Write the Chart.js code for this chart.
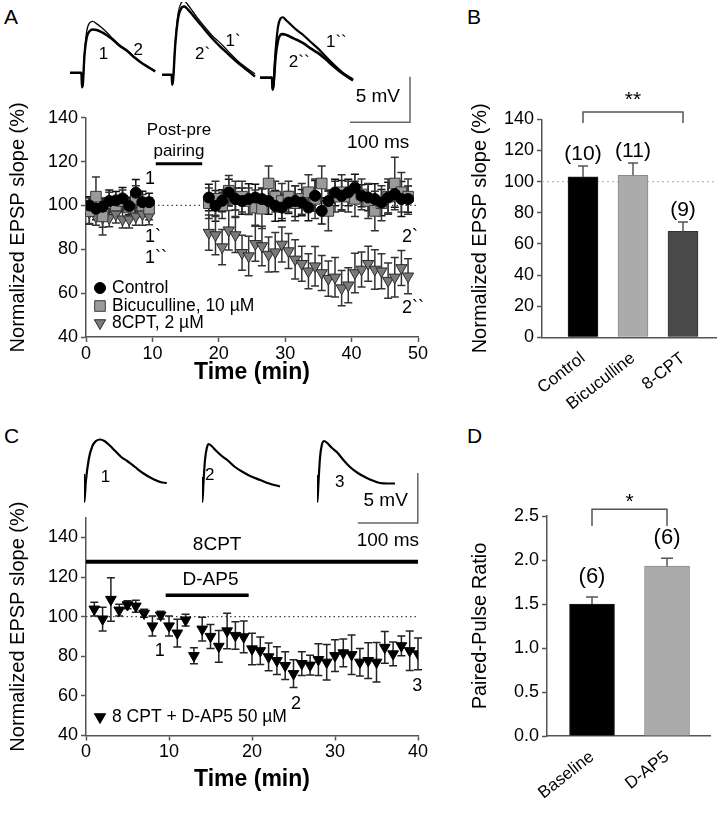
<!DOCTYPE html>
<html><head><meta charset="utf-8">
<script src="https://cdn.jsdelivr.net/npm/chart.js@4.4.1/dist/chart.umd.min.js"></script>
<style>
body{margin:0;background:#fff;}
#wrap{position:relative;width:717px;height:813px;overflow:hidden;background:#fff;font-family:"Liberation Sans",Arial,sans-serif;}
canvas{position:absolute;}
.lbl{position:absolute;font-size:21px;color:#000;line-height:1;}
</style></head><body><div id="wrap">
<div class="lbl" style="left:4px;top:6px">A</div>
<div class="lbl" style="left:467px;top:6px">B</div>
<div class="lbl" style="left:4px;top:425px">C</div>
<div class="lbl" style="left:467px;top:425px">D</div>
</div>
<script>
// ================= DATA =================
// Panel A time course
const minutesPre  = [0.5,1.5,2.5,3.5,4.5,5.5,6.5,7.5,8.5,9.5];
const minutesPost = [18.5,19.5,20.5,21.5,22.5,23.5,24.5,25.5,26.5,27.5,28.5,29.5,30.5,31.5,32.5,33.5,34.5,35.5,36.5,37.5,38.5,39.5,40.5,41.5,42.5,43.5,44.5,45.5,46.5,47.5,48.5];
const controlPre     = [100,98.5,99.4,102,102.3,103.2,99.7,105.8,101.5,101.5];
const controlPreErr  = [4,5,4,5,4,5,4,6,5,4];
const controlPost    = [103.6,99.8,102.1,105.9,102.9,102,102.9,103.6,102.9,102,99.8,99,101.3,102,101.3,99,104.4,97.5,102,105.9,104.4,105.9,108.2,104.4,103.6,102.9,101.3,103.6,105.2,102.9,102.9];
const controlPostErr = [6,7,5,6,5,6,7,6,5,6,7,6,5,7,6,6,7,6,5,6,7,6,6,5,6,7,6,7,6,8,6];
const bicPre     = [97.4,104,95,101,100,102,99,103,100,98.5];
const bicPreErr  = [6,9,5,5,4,5,4,6,5,5];
const bicPost    = [101,103,100,106.7,103,104,102,99,98.5,110,104,102,104,101,103,106,103,110,97.5,104,106,104,103,105,102,97.5,101,104,110,106,104];
const bicPostErr = [7,8,6,7,8,7,6,8,9,8,7,8,7,8,7,8,9,8,9,7,8,7,8,7,8,9,8,8,12,9,8];
const cptPre     = [96.8,95,94.5,94.3,96,93.7,93.7,95,96,95.2];
const cptPreErr  = [5,4,8,4,4,4,4,4,5,4];
const cptPost    = [87.6,86.5,81,88.7,86.5,78.4,76.9,82.5,81.5,77.6,78.7,82.2,79.2,75.4,73.4,70,72.3,69.2,66.6,67.2,62.3,63.6,69.2,70.8,73.4,70.8,70,65.7,67.2,71.5,67.7];
const cptPostErr = [8,9,8,9,8,8,9,8,9,8,9,8,8,9,8,8,9,8,8,9,8,8,9,8,8,9,8,8,9,8,8];
const seriesNamesA = ['Control','Bicuculline, 10 \u00b5M','8CPT, 2 \u00b5M'];

// Panel B
const labelsB = ['Control','Bicuculline','8-CPT'];
const meansB  = [103,104,68];
const errsB   = [7,8,6];
const nB      = ['(10)','(11)','(9)'];

// Panel C time course
const minutesC = [1,2,3,4,5,6,7,8,9,10,11,12,13,14,15,16,17,18,19,20,21,22,23,24,25,26,27,28,29,30,31,32,33,34,35,36,37,38,39,40];
const valuesC  = [103.8,98.8,108.7,103.3,106,105.3,101.7,95.3,100.8,95.3,91.7,98.3,80.3,93.7,90,85,92.8,90.5,89.8,83.7,82.8,79.7,77.8,75.3,71.2,76.3,75.5,78.3,77,80.3,81.7,80.8,77,77.8,77,84.5,81.2,85.3,82.8,81.2];
const errsC    = [3.5,6,11,3,2,3,2,5,2,5,7,3,4,6,6,8,9,7,8,8,7,7,7,7,7,6,5,8,9,8,7,10,7,9,10,8,6,5,10,8];
const seriesNameC = '8 CPT + D-AP5 50 \u00b5M';

// Panel D
const labelsD = ['Baseline','D-AP5'];
const meansD  = [1.50,1.93];
const errsD   = [0.08,0.09];
const nD      = ['(6)','(6)'];

// EPSP traces [ms, mV]
const traceA1_1 = [[0,0],[19,0],[20,-1.6],[21.5,-1.2],[24,2.0],[28,4.6],[33,5.5],[38,5.65],[44,5.4],[52,5.0],[62,4.4],[72,3.7],[82,3.1],[95,2.5],[108,1.7],[120,1.1],[132,0.6],[142,0.2]];
const traceA1_2 = [[0,0],[19,0],[20,-1.6],[21.5,-1.2],[24,1.8],[28,3.9],[33,4.6],[38,4.75],[44,4.7],[52,4.5],[62,4.1],[72,3.6],[82,3.0],[95,2.4],[108,1.65],[120,1.05],[132,0.55],[142,0.15]];
const traceA2_1 = [[0,0],[16,0],[17,-1.1],[18.5,-0.6],[22,3.5],[27,6.8],[32,7.9],[37,8.1],[43,7.7],[52,6.9],[62,6.0],[72,5.2],[85,4.2],[97,3.5],[110,2.6],[125,1.6],[140,0.8],[155,0.1]];
const traceA2_2 = [[0,0],[16,0],[17,-1.1],[18.5,-0.6],[22,3.2],[27,6.3],[32,7.3],[37,7.5],[43,7.2],[52,6.5],[62,5.7],[72,4.9],[85,3.9],[97,3.1],[110,2.3],[125,1.4],[140,0.6],[155,-0.2]];
const traceA3_1 = [[0,0],[20,0],[21,-1.3],[22.5,-0.8],[26,3.0],[30,5.6],[34,6.5],[38,6.65],[44,6.3],[52,5.8],[62,5.2],[72,4.7],[85,3.9],[97,3.2],[110,2.3],[122,1.5],[137,0.6],[155,-0.2]];
const traceA3_2 = [[0,0],[20,0],[21,-1.3],[22.5,-0.8],[26,2.3],[30,4.1],[34,4.7],[38,4.8],[44,4.7],[52,4.45],[62,4.15],[72,3.8],[85,3.2],[97,2.7],[110,2.0],[122,1.3],[137,0.5],[155,-0.3]];
const traceC1 = [[0,1.3],[0.6,-1.5],[3,0.5],[8,2.8],[14,4.1],[20,4.6],[27,4.75],[34,4.6],[42,4.2],[52,3.6],[62,3.0],[72,2.6],[85,2.0],[98,1.4],[112,0.9],[127,0.5],[138,0.4]];
const traceC2 = [[0,1.0],[0.6,-1.5],[2.5,0.5],[5,2.7],[8,3.9],[11,4.3],[16,4.1],[24,3.6],[33,3.1],[42,2.7],[55,2.0],[68,1.5],[82,1.05],[97,0.7],[112,0.35],[130,0.05]];
const traceC3 = [[0,1.2],[0.6,-1.5],[2.5,0.5],[5,2.9],[8,4.2],[12,4.6],[17,4.4],[25,3.9],[33,3.5],[44,2.7],[55,2.0],[68,1.4],[83,0.9],[95,0.6],[105,0.4],[118,0.35],[130,0.35]];
const scaleBarMs = 100, scaleBarMv = 5;

// ================= SETUP =================
const FONT = '"Liberation Sans", Arial, sans-serif';
Chart.defaults.font.family = FONT;
Chart.defaults.color = '#000';
Chart.defaults.animation = false;
Chart.defaults.responsive = false;
Chart.defaults.devicePixelRatio = 1;
Chart.defaults.events = [];
Chart.defaults.plugins.legend.display = false;
Chart.defaults.plugins.tooltip.enabled = false;

const wrap = document.getElementById('wrap');
function mk(left, top, w, h){
  const c = document.createElement('canvas');
  c.width = w; c.height = h;
  c.style.left = left+'px'; c.style.top = top+'px';
  c.style.width = w+'px'; c.style.height = h+'px';
  wrap.appendChild(c); return c;
}
const fixY = w => s => { s.width = w; s.paddingTop = 0; s.paddingBottom = 0; };
const fixX = h => s => { s.height = h; s.paddingLeft = 0; s.paddingRight = 0; };
const AX = '#555';
const TICK = 18;

function txt(ctx, s, x, y, size, align, weight){
  ctx.save();
  ctx.font = (weight||'') + ' ' + size + 'px ' + FONT;
  ctx.fillStyle = '#000'; ctx.textAlign = align || 'center'; ctx.textBaseline = 'middle';
  ctx.fillText(s, x, y); ctx.restore();
}
function marker(ctx, style, x, y, fill, stroke){
  ctx.save(); ctx.beginPath();
  if (style === 'circle') ctx.arc(x, y, 5.5, 0, Math.PI*2);
  else if (style === 'rect') ctx.rect(x-5.3, y-5.3, 10.6, 10.6);
  else { const r = 6.5; ctx.moveTo(x, y+r); ctx.lineTo(x-r*0.866, y-r/2); ctx.lineTo(x+r*0.866, y-r/2); ctx.closePath(); }
  ctx.fillStyle = fill; ctx.fill(); ctx.lineWidth = 1; ctx.strokeStyle = stroke; ctx.stroke(); ctx.restore();
}
function hline(ctx, x1, x2, y, lw, color, dash){
  ctx.save(); ctx.beginPath(); ctx.lineWidth = lw; ctx.strokeStyle = color;
  if (dash) ctx.setLineDash(dash);
  ctx.moveTo(x1, y); ctx.lineTo(x2, y); ctx.stroke(); ctx.restore();
}
function errBars(chart, color, cap, both){
  const ctx = chart.ctx, xs = chart.scales.x, ys = chart.scales.y;
  chart.data.datasets.forEach(ds => {
    if (!ds.errs) return;
    ds.data.forEach((p, i) => {
      const e = ds.errs[i]; const x = xs.getPixelForValue(p.x);
      const yHi = ys.getPixelForValue(p.y + e), yLo = both ? ys.getPixelForValue(p.y - e) : ys.getPixelForValue(p.y);
      ctx.save(); ctx.strokeStyle = ds.errColor || color; ctx.lineWidth = 1.5; ctx.beginPath();
      ctx.moveTo(x, yLo); ctx.lineTo(x, yHi);
      ctx.moveTo(x-cap, yHi); ctx.lineTo(x+cap, yHi);
      if (both) { ctx.moveTo(x-cap, yLo); ctx.lineTo(x+cap, yLo); }
      ctx.stroke(); ctx.restore();
    });
  });
}
const pts = (xs, ys) => xs.map((x, i) => ({x, y: ys[i]}));

// ================= TRACES =================
const PX_MS = 0.6;
function traceChart(left, top, w, h, pxMv, vTop, traces, extra){
  const c = mk(left, top, w, h);
  return new Chart(c, {
    type: 'scatter',
    data: { datasets: traces.map(t => ({ data: t.d.map(p => ({x:p[0], y:p[1]})), showLine: true, borderColor: '#000', borderWidth: t.w, pointRadius: 0, cubicInterpolationMode: 'monotone', fill: false })) },
    options: { layout: {padding: 0},
      scales: { x: {type:'linear', display:false, min:0, max: w/PX_MS}, y: {type:'linear', display:false, max: vTop, min: vTop - h/pxMv} } },
    plugins: [{ id:'tx', afterDraw(ch){ extra && extra(ch); } }]
  });
}
const PX_MV_A = 9.09, PX_MV_C = 10;
function lab(ch, s, t, v, align){ txt(ch.ctx, s, ch.scales.x.getPixelForValue(t), ch.scales.y.getPixelForValue(v), 17, align||'left'); }
function scaleBar(ch, t0, vBottom, textV, textMsT, textMsV){
  const ctx = ch.ctx, X = ch.scales.x, Y = ch.scales.y;
  const x1 = X.getPixelForValue(t0), x2 = X.getPixelForValue(t0 + scaleBarMs);
  const y1 = Y.getPixelForValue(vBottom), y2 = Y.getPixelForValue(vBottom + scaleBarMv);
  ctx.save(); ctx.strokeStyle = '#666'; ctx.lineWidth = 1.5; ctx.beginPath();
  ctx.moveTo(x1, y1); ctx.lineTo(x2, y1); ctx.lineTo(x2, y2); ctx.stroke(); ctx.restore();
  txt(ctx, scaleBarMv + ' mV', x2 - 10, Y.getPixelForValue(textV), 19, 'right');
  txt(ctx, scaleBarMs + ' ms', X.getPixelForValue(textMsT), Y.getPixelForValue(textMsV), 19, 'center');
}
traceChart(70, 0, 96, 100, PX_MV_A, 8, [{d:traceA1_1,w:1.3},{d:traceA1_2,w:2.4}], ch => { lab(ch,'1',48,2.0); lab(ch,'2',106,2.5); });
traceChart(162, 2, 96, 100, PX_MV_A, 8, [{d:traceA2_1,w:1.3},{d:traceA2_2,w:2.4}], ch => { lab(ch,'2`',55,2.2); lab(ch,'1`',106,3.7); });
traceChart(260, 5, 165, 150, PX_MV_A, 8, [{d:traceA3_1,w:2.2},{d:traceA3_2,w:2.6}], ch => { lab(ch,'2``',48,1.7); lab(ch,'1``',110,3.85); scaleBar(ch, 150, -4.9, -2.1, 197, -7.15); });
traceChart(84, 432, 96, 120, PX_MV_C, 5.5, [{d:traceC1,w:2.2}], ch => { lab(ch,'1',28,1.0); });
traceChart(202, 432, 96, 120, PX_MV_C, 5.5, [{d:traceC2,w:2.2}], ch => { lab(ch,'2',5,1.2); });
traceChart(317, 432, 110, 120, PX_MV_C, 5.5, [{d:traceC3,w:2.2}], ch => { lab(ch,'3',30,0.5); scaleBar(ch, 68, -3.6, -1.4, 118, -5.4); });

// ================= PANEL A =================
function timeAxes(xmax, ymin, ymax, yW, xH, xTitlePad, filterMax){
  return {
    x: { type:'linear', min:0, max:xmax, afterFit: fixX(xH),
      ticks: { stepSize:10, font:{size:TICK}, padding:1, maxRotation:0 },
      grid: { drawOnChartArea:false, tickLength:5, color:AX, tickWidth:1.5 },
      border: { color:AX, width:1.5 },
      title: { display:true, text:'Time (min)', font:{size:23, weight:'bold'}, padding:{top:0, bottom:xTitlePad} } },
    y: { type:'linear', min:ymin, max:ymax, afterFit: fixY(yW),
      afterBuildTicks: s => { s.ticks = s.ticks.filter(t => t.value <= filterMax); },
      ticks: { stepSize:20, font:{size:TICK}, padding:3 },
      grid: { drawOnChartArea:false, tickLength:5, color:AX, tickWidth:1.5 },
      border: { color:AX, width:1.5 },
      title: { display:true, text:'Normalized EPSP slope (%)', font:{size:20}, padding:{top:6, bottom:0} } }
  };
}
const cA = mk(0, 100, 460, 300);
new Chart(cA, {
  type: 'scatter',
  data: { datasets: [
    { data: [...pts(minutesPre, controlPre), ...pts(minutesPost, controlPost)], errs: [...controlPreErr, ...controlPostErr], errColor:'#111',
      pointStyle:'circle', pointRadius:5.5, backgroundColor:'#000', borderColor:'#000', borderWidth:1 },
    { data: [...pts(minutesPre, bicPre), ...pts(minutesPost, bicPost)], errs: [...bicPreErr, ...bicPostErr], errColor:'#333',
      pointStyle:'rect', pointRadius:7.5, backgroundColor:'#9a9a9a', borderColor:'#3a3a3a', borderWidth:1 },
    { data: [...pts(minutesPre, cptPre), ...pts(minutesPost, cptPost)], errs: [...cptPreErr, ...cptPostErr], errColor:'#333',
      pointStyle:'triangle', rotation:180, pointRadius:6.5, backgroundColor:'#7a7a7a', borderColor:'#2a2a2a', borderWidth:1 }
  ]},
  options: { layout: { padding: { top:17.7, right:42, left:0, bottom:0 } },
    scales: timeAxes(50, 40, 140, 86, 63, 14, 140) },
  plugins: [{ id:'annA',
    beforeDatasetsDraw(ch){
      const Y = ch.scales.y, a = ch.chartArea;
      hline(ch.ctx, a.left, a.right, Y.getPixelForValue(100), 1.3, '#444', [1.5, 3]);
      errBars(ch, '#222', 4, true);
    },
    afterDatasetsDraw(ch){
      const ctx = ch.ctx, X = ch.scales.x, Y = ch.scales.y, a = ch.chartArea;
      hline(ctx, X.getPixelForValue(10.5), X.getPixelForValue(17.5), Y.getPixelForValue(119), 3, '#000');
      txt(ctx, 'Post-pre', X.getPixelForValue(14), Y.getPixelForValue(134.3), 17);
      txt(ctx, 'pairing', X.getPixelForValue(14), Y.getPixelForValue(124.8), 17);
      txt(ctx, '1', X.getPixelForValue(8.9), Y.getPixelForValue(112.2), 18, 'left');
      txt(ctx, '1`', X.getPixelForValue(8.9), Y.getPixelForValue(85.5), 18, 'left');
      txt(ctx, '1``', X.getPixelForValue(8.9), Y.getPixelForValue(76.2), 18, 'left');
      txt(ctx, '2`', X.getPixelForValue(47.6), Y.getPixelForValue(85.5), 18, 'left');
      txt(ctx, '2``', X.getPixelForValue(47.6), Y.getPixelForValue(53.4), 18, 'left');
      const styles = [['circle','#000','#000'],['rect','#9a9a9a','#3a3a3a'],['tri','#7a7a7a','#2a2a2a']];
      const rowsY = [a.bottom - 49, a.bottom - 31, a.bottom - 14];
      seriesNamesA.forEach((n, i) => {
        marker(ctx, styles[i][0], a.left + 14, rowsY[i], styles[i][1], styles[i][2]);
        txt(ctx, n, a.left + 26, rowsY[i], 17.5, 'left');
      });
    }
  }]
});

// ================= PANEL C =================
const cC = mk(0, 500, 460, 313);
new Chart(cC, {
  type: 'scatter',
  data: { datasets: [
    { data: pts(minutesC, valuesC), errs: errsC, errColor:'#222',
      pointStyle:'triangle', rotation:180, pointRadius:6.2, backgroundColor:'#000', borderColor:'#000', borderWidth:1 }
  ]},
  options: { layout: { padding: { top:17.7, right:42, left:0, bottom:0 } },
    scales: timeAxes(40, 40, 150, 86, 77.5, 20, 140) },
  plugins: [{ id:'annC',
    beforeDatasetsDraw(ch){
      const Y = ch.scales.y, a = ch.chartArea;
      hline(ch.ctx, a.left, a.right, Y.getPixelForValue(100), 1.3, '#444', [1.5, 3]);
      errBars(ch, '#222', 4, true);
    },
    afterDatasetsDraw(ch){
      const ctx = ch.ctx, X = ch.scales.x, Y = ch.scales.y, a = ch.chartArea;
      hline(ctx, X.getPixelForValue(0), X.getPixelForValue(40), Y.getPixelForValue(127.8), 4, '#000');
      txt(ctx, '8CPT', X.getPixelForValue(15.8), Y.getPixelForValue(136.4), 19);
      hline(ctx, X.getPixelForValue(9.6), X.getPixelForValue(19.6), Y.getPixelForValue(110.8), 3.5, '#000');
      txt(ctx, 'D-AP5', X.getPixelForValue(15), Y.getPixelForValue(118.5), 19);
      txt(ctx, '1', X.getPixelForValue(8.9), Y.getPixelForValue(82.8), 18);
      txt(ctx, '2', X.getPixelForValue(25.3), Y.getPixelForValue(55.8), 18);
      txt(ctx, '3', X.getPixelForValue(39.9), Y.getPixelForValue(65), 18);
      marker(ctx, 'tri', a.left + 14, a.bottom - 18.5, '#000', '#000');
      txt(ctx, seriesNameC, a.left + 26, a.bottom - 18.5, 17.5, 'left');
    }
  }]
});

// ================= BAR PANELS =================
function barChart(left, top, w, h, cfg){
  const c = mk(left, top, w, h);
  return new Chart(c, {
    type: 'bar',
    data: { datasets: [{ data: cfg.labels.map((l, i) => ({x: i+1, y: cfg.means[i]})), errs: cfg.errs,
      backgroundColor: cfg.colors, borderColor: cfg.borders, borderWidth: 1, barThickness: cfg.barW, borderSkipped: 'bottom' }] },
    options: { layout: { padding: { top: cfg.padTop, right: cfg.padRight, left: 0, bottom: 0 } },
      scales: {
        x: { type:'linear', offset:false, min: cfg.xmin, max: cfg.xmax, afterFit: fixX(cfg.xH),
          afterBuildTicks: s => { s.ticks = cfg.labels.map((l, i) => ({value: i+1})); },
          ticks: { autoSkip:false, minRotation:38, maxRotation:38, font:{size:17}, padding:3, callback: v => cfg.labels[Math.round(v)-1] },
          grid: { display:false, offset:false }, border: { color:AX, width:1.5 } },
        y: { type:'linear', min:0, max: cfg.ymax, afterFit: fixY(cfg.yW),
          ticks: { stepSize: cfg.step, font:{size:TICK}, padding:3, callback: cfg.tickFmt },
          grid: { drawOnChartArea:false, tickLength:5, color:AX, tickWidth:1.5 }, border: { color:AX, width:1.5 },
          title: { display:true, text: cfg.yTitle, font:{size:20}, padding:{top: cfg.titlePad, bottom:0} } } } },
    plugins: [{ id:'annBar',
      beforeDatasetsDraw(ch){ if (cfg.dotted !== undefined) { const Y = ch.scales.y; hline(ch.ctx, ch.chartArea.left, ch.width, Y.getPixelForValue(cfg.dotted), 1.2, '#bbb', [2, 3]); } },
      afterDatasetsDraw(ch){
        const ctx = ch.ctx, X = ch.scales.x, Y = ch.scales.y;
        errBars(ch, '#555', cfg.cap, false);
        cfg.labels.forEach((l, i) => {
          txt(ctx, cfg.ns[i], X.getPixelForValue(i+1), Y.getPixelForValue(cfg.means[i] + cfg.errs[i]) - cfg.nOff, cfg.nSize);
        });
        const b = cfg.bracket;
        const xa = X.getPixelForValue(b.from), xb = X.getPixelForValue(b.to), yt = Y.getPixelForValue(b.top), yd = Y.getPixelForValue(b.drop);
        ctx.save(); ctx.strokeStyle = '#555'; ctx.lineWidth = 1.5; ctx.beginPath();
        ctx.moveTo(xa, yd); ctx.lineTo(xa, yt); ctx.lineTo(xb, yt); ctx.lineTo(xb, yd); ctx.stroke(); ctx.restore();
        txt(ctx, b.star, (xa + xb)/2, Y.getPixelForValue(b.starAt), 21);
      }
    }]
  });
}
barChart(460, 60, 257, 380, { labels: labelsB, means: meansB, errs: errsB, ns: nB,
  colors: ['#000000','#ababab','#4a4a4a'], borders: ['#222','#8a8a8a','#333'], barW: 30,
  padTop: 59.3, padRight: 0, xmin: 0.18, xmax: 3.68, xH: 102.7, yW: 82, ymax: 140, step: 20,
  tickFmt: v => v, yTitle: 'Normalized EPSP slope (%)', titlePad: 8, dotted: 100, cap: 5, nOff: 12, nSize: 21,
  bracket: { from: 1, to: 3, top: 144.7, drop: 137.6, star: '**', starAt: 152.4 } });
barChart(460, 440, 257, 373, { labels: labelsD, means: meansD, errs: errsD, ns: nD,
  colors: ['#000000','#ababab'], borders: ['#222','#8a8a8a'], barW: 45,
  padTop: 76, padRight: 7, xmin: 0.4, xmax: 2.573, xH: 77, yW: 87, ymax: 2.5, step: 0.5,
  tickFmt: v => Number(v).toFixed(1), yTitle: 'Paired-Pulse Ratio', titlePad: 8, cap: 6, nOff: 20, nSize: 22,
  bracket: { from: 1, to: 2, top: 2.576, drop: 2.386, star: '*', starAt: 2.66 } });
</script>
</body></html>
